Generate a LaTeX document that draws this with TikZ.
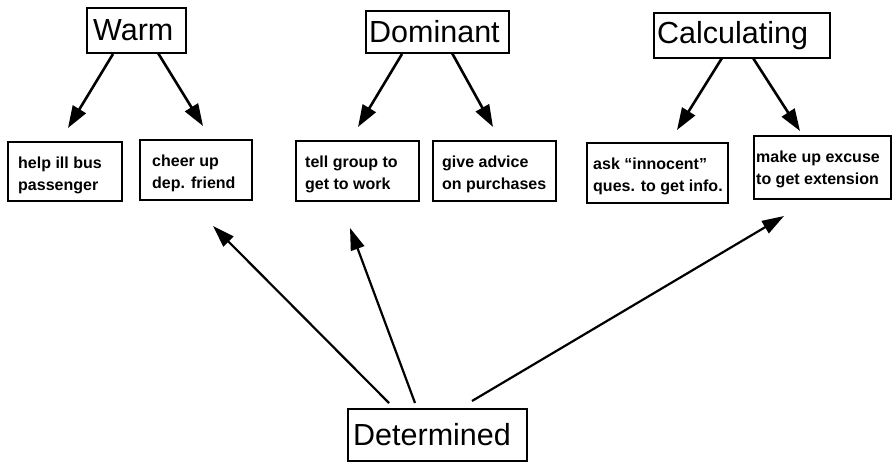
\documentclass[tikz,border=0pt]{standalone}
\usepackage{fontspec}
\setmainfont{Liberation Sans}
\usetikzlibrary{arrows.meta,calc}
\tikzset{
  bigbox/.style={draw, line width=1.8pt, anchor=north west, inner sep=0pt},
  smallbox/.style={draw, line width=1.6pt, anchor=north west, inner sep=0pt},
  bigtxt/.style={anchor=west, inner sep=0pt, font=\fontsize{30.5}{36}\selectfont},
  smalltxt/.style={anchor=west, inner sep=0pt, align=left,
    font=\fontsize{16}{22}\selectfont\bfseries},
  toparrow/.style={line width=2.6pt, -{Triangle[length=22pt,width=15pt]}},
  botarrow/.style={line width=2.2pt, -{Triangle[length=22pt,width=14pt]}}
}
\begin{document}
\begin{tikzpicture}[x=1pt,y=-1pt]
\useasboundingbox (0,0) rectangle (893,462);
% top category boxes
\node[bigbox, minimum width=99pt, minimum height=45pt] (warm) at (86,7) {};
\node[bigtxt] (warmt) at ($(warm.west)+(7,0)$) {Warm};
\node[bigbox, minimum width=143pt, minimum height=42pt] (dom) at (365,10) {};
\node[bigtxt] (domt) at ($(dom.west)+(4,0)$) {Dominant};
\node[bigbox, minimum width=176pt, minimum height=45pt] (calc) at (653,12) {};
\node[bigtxt] (calct) at ($(calc.west)+(4,0)$) {Calculating};
% bottom box
\node[bigbox, minimum width=179pt, minimum height=52pt] (det) at (347,408) {};
\node[bigtxt] (dett) at ($(det.west)+(6,0)$) {Determined};
% behaviour boxes
\node[smallbox, minimum width=114pt, minimum height=59pt] (help) at (7,141) {};
\node[smalltxt] (helpt) at ($(help.west)+(11,4)$) {help ill bus\\passenger};
\node[smallbox, minimum width=112pt, minimum height=60pt] (cheer) at (139,139) {};
\node[smalltxt] (cheert) at ($(cheer.west)+(13,4)$) {cheer up\\dep. friend};
\node[smallbox, minimum width=123pt, minimum height=60pt] (tell) at (295,140) {};
\node[smalltxt] (tellt) at ($(tell.west)+(10,4)$) {tell group to\\get to work};
\node[smallbox, minimum width=123pt, minimum height=60pt] (give) at (432,140) {};
\node[smalltxt] (givet) at ($(give.west)+(10,4)$) {give advice\\on purchases};
\node[smallbox, minimum width=141pt, minimum height=60pt] (ask) at (586,142) {};
\node[smalltxt] (askt) at ($(ask.west)+(7,4)$) {ask ``innocent''\\ques. to get info.};
\node[smallbox, minimum width=137pt, minimum height=63pt] (make) at (753,135) {};
\node[smalltxt] (maket) at ($(make.west)+(3,2)$) {make up excuse\\to get extension};
% free arrow ends
\coordinate (w1s) at (113,54);  \coordinate (w1e) at (68,128);
\coordinate (w2s) at (158,53);  \coordinate (w2e) at (203,126);
\coordinate (d1s) at (402,54);  \coordinate (d1e) at (358,127);
\coordinate (d2s) at (452,53);  \coordinate (d2e) at (493,127);
\coordinate (c1s) at (722,58);  \coordinate (c1e) at (677,130);
\coordinate (c2s) at (753,58);  \coordinate (c2e) at (800,131);
\coordinate (b1s) at (389,403); \coordinate (b1e) at (213,226);
\coordinate (b2s) at (415,403); \coordinate (b2e) at (350,228);
\coordinate (b3s) at (472,401); \coordinate (b3e) at (784,216);
\draw[toparrow] (w1s) -- (w1e);
\draw[toparrow] (w2s) -- (w2e);
\draw[toparrow] (d1s) -- (d1e);
\draw[toparrow] (d2s) -- (d2e);
\draw[toparrow] (c1s) -- (c1e);
\draw[toparrow] (c2s) -- (c2e);
\draw[botarrow] (b1s) -- (b1e);
\draw[botarrow] (b2s) -- (b2e);
\draw[botarrow] (b3s) -- (b3e);
\end{tikzpicture}
\end{document}
